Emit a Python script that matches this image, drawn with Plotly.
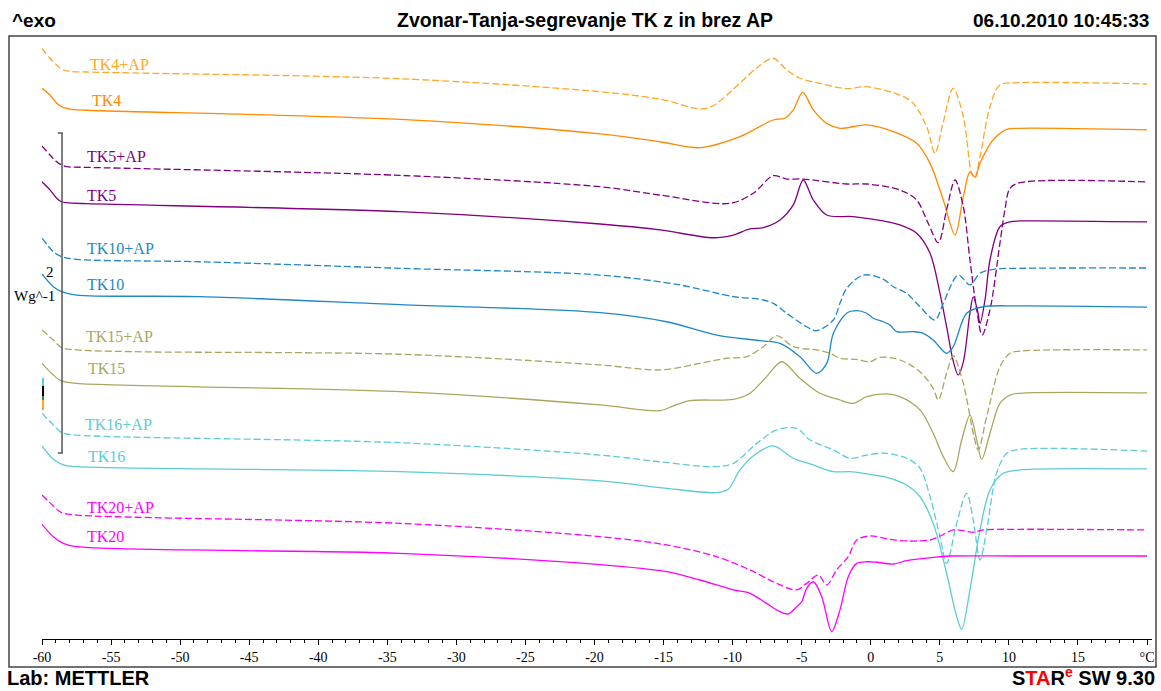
import plotly.graph_objects as go

# DSC heating curves: temperature (°C) vs. heat flow (W/g, curves shifted vertically)
TK4_AP_T = [-60, -59.42, -58.94, -58.58, -57.98, -56.77, -53.41, -34.08, -19.60, -15.26, -11.88, -9.47, -8.26, -7.06, -6.09, -5.13, -3.92, -1.74, -0.30, 2.11, 3.08, 4.05, 4.65, 5.23, 5.97, 6.70, 7.30, 7.54, 7.91, 8.63, 9.35, 10.80, 20.0]
TK4_AP_V = [3.698, 3.636, 3.594, 3.567, 3.554, 3.550, 3.544, 3.508, 3.427, 3.381, 3.323, 3.481, 3.575, 3.636, 3.563, 3.511, 3.483, 3.446, 3.458, 3.406, 3.354, 3.208, 3.042, 3.231, 3.448, 3.271, 2.917, 2.886, 3.021, 3.333, 3.469, 3.483, 3.475]

TK4_T = [-60, -59.42, -58.94, -58.46, -57.85, -56.77, -34.08, -19.60, -15.26, -12.37, -9.47, -7.06, -6.21, -5.61, -4.93, -4.16, -3.19, -2.23, -0.30, 1.63, 3.32, 4.29, 5.25, 6.10, 6.70, 7.18, 7.54, 7.91, 8.85, 9.84, 10.80, 20.0]
TK4_V = [3.448, 3.406, 3.354, 3.329, 3.317, 3.311, 3.254, 3.163, 3.114, 3.077, 3.146, 3.250, 3.261, 3.313, 3.423, 3.313, 3.229, 3.198, 3.219, 3.177, 3.104, 2.979, 2.750, 2.531, 2.771, 2.925, 2.894, 2.981, 3.125, 3.192, 3.198, 3.188]

TK5_AP_T = [-60, -59.42, -58.94, -58.58, -58.21, -56.77, -34.08, -19.60, -15.26, -10.19, -8.51, -7.06, -6.09, -4.89, -1.74, -0.30, 2.11, 3.32, 4.16, 4.89, 5.49, 6.10, 6.70, 7.18, 7.67, 8.06, 8.63, 9.35, 9.71, 10.08, 10.80, 20.0]
TK5_AP_V = [3.088, 3.031, 2.989, 2.969, 2.958, 2.954, 2.904, 2.833, 2.781, 2.729, 2.792, 2.902, 2.881, 2.881, 2.850, 2.850, 2.813, 2.750, 2.604, 2.483, 2.688, 2.875, 2.708, 2.375, 2.063, 1.906, 2.063, 2.479, 2.688, 2.823, 2.858, 2.863]

TK5_T = [-60, -59.42, -58.94, -58.58, -58.21, -56.77, -34.08, -19.60, -15.26, -11.40, -9.95, -8.75, -7.78, -6.57, -5.61, -4.89, -4.16, -3.19, -1.27, 0.90, 2.11, 3.32, 4.29, 5.01, 5.49, 5.95, 6.33, 6.70, 7.18, 7.42, 7.75, 7.91, 8.27, 8.63, 9.35, 10.08, 10.80, 20.0]
TK5_V = [2.864, 2.813, 2.761, 2.739, 2.733, 2.727, 2.677, 2.600, 2.563, 2.514, 2.531, 2.569, 2.577, 2.625, 2.719, 2.875, 2.750, 2.656, 2.646, 2.619, 2.594, 2.542, 2.417, 2.167, 1.958, 1.750, 1.656, 1.738, 2.044, 2.144, 2.050, 1.979, 2.125, 2.375, 2.583, 2.614, 2.619, 2.613]

TK10_AP_T = [-60, -59.18, -58.58, -57.49, -48.56, -34.08, -19.60, -13.81, -9.95, -8.02, -7.06, -6.09, -4.64, -3.92, -2.71, -2.23, -1.74, -0.54, 0.90, 1.63, 2.60, 3.56, 4.65, 5.25, 6.33, 7.18, 7.91, 8.87, 10.80, 20.0]
TK10_AP_V = [2.511, 2.427, 2.396, 2.379, 2.364, 2.323, 2.281, 2.219, 2.146, 2.129, 2.104, 2.042, 1.958, 1.933, 2.000, 2.104, 2.198, 2.281, 2.256, 2.208, 2.167, 2.083, 2.000, 2.104, 2.281, 2.219, 2.292, 2.317, 2.323, 2.325]

TK10_T = [-60, -59.18, -58.58, -57.49, -48.56, -34.08, -19.60, -14.78, -11.16, -8.02, -6.57, -5.13, -3.92, -3.19, -2.71, -1.74, -1.02, -0.30, 0.18, 0.90, 1.39, 1.88, 3.08, 3.80, 4.52, 5.49, 5.97, 6.94, 8.14, 10.80, 20.0]
TK10_V = [2.288, 2.208, 2.177, 2.156, 2.146, 2.096, 2.046, 1.989, 1.906, 1.871, 1.854, 1.771, 1.667, 1.729, 1.917, 2.042, 2.058, 2.042, 2.011, 1.989, 1.969, 1.927, 1.927, 1.917, 1.875, 1.792, 1.833, 2.042, 2.083, 2.088, 2.081]

TK15_AP_T = [-60, -59.18, -58.58, -57.49, -53.39, -34.08, -19.60, -15.26, -12.37, -10.43, -8.98, -7.78, -6.81, -5.61, -3.92, -2.95, -2.23, -1.02, -0.06, 0.67, 2.11, 3.56, 4.52, 4.89, 5.49, 5.97, 6.70, 7.42, 7.78, 8.39, 9.35, 10.08, 10.80, 20.0]
TK15_AP_V = [1.938, 1.875, 1.827, 1.813, 1.802, 1.786, 1.719, 1.688, 1.729, 1.761, 1.771, 1.833, 1.902, 1.833, 1.813, 1.792, 1.761, 1.754, 1.739, 1.767, 1.750, 1.677, 1.573, 1.500, 1.667, 1.775, 1.604, 1.292, 1.188, 1.396, 1.708, 1.792, 1.806, 1.813]

TK15_T = [-60, -59.18, -58.58, -57.49, -34.08, -19.60, -15.26, -14.30, -13.09, -9.95, -8.75, -7.54, -6.45, -5.13, -3.68, -2.23, -1.27, -0.30, 1.15, 2.11, 3.56, 4.52, 5.25, 5.97, 6.58, 7.18, 7.67, 8.03, 8.63, 9.35, 10.08, 10.80, 20.0]
TK15_V = [1.729, 1.656, 1.619, 1.604, 1.552, 1.469, 1.433, 1.463, 1.496, 1.504, 1.542, 1.646, 1.739, 1.636, 1.542, 1.500, 1.479, 1.521, 1.538, 1.521, 1.438, 1.292, 1.146, 1.052, 1.250, 1.406, 1.250, 1.129, 1.292, 1.479, 1.531, 1.542, 1.544]

TK16_AP_T = [-60, -59.18, -58.58, -57.49, -34.08, -19.60, -15.26, -11.40, -9.95, -8.26, -6.81, -5.36, -4.40, -2.71, -1.51, -0.30, 1.15, 2.60, 3.56, 4.29, 5.01, 5.49, 6.22, 6.94, 7.42, 7.91, 8.39, 9.11, 9.84, 10.80, 20.0]
TK16_AP_V = [1.417, 1.344, 1.296, 1.281, 1.233, 1.156, 1.114, 1.083, 1.104, 1.229, 1.313, 1.323, 1.250, 1.188, 1.136, 1.156, 1.167, 1.136, 1.075, 0.896, 0.646, 0.479, 0.729, 0.917, 0.750, 0.500, 0.688, 1.042, 1.167, 1.192, 1.181]

TK16_T = [-60, -59.18, -58.46, -57.49, -34.08, -19.60, -14.78, -11.16, -10.32, -9.47, -8.26, -7.06, -5.61, -4.16, -2.71, -1.51, -0.30, 1.15, 2.60, 3.56, 4.52, 5.49, 6.22, 6.58, 7.18, 7.91, 8.63, 9.59, 10.80, 20.0]
TK16_V = [1.213, 1.129, 1.094, 1.083, 1.052, 0.994, 0.948, 0.921, 0.942, 1.063, 1.167, 1.213, 1.136, 1.094, 1.052, 1.052, 1.038, 1.017, 0.969, 0.896, 0.729, 0.417, 0.146, 0.067, 0.313, 0.688, 0.938, 1.042, 1.063, 1.069]

TK20_AP_T = [-60, -59.18, -58.58, -57.49, -34.08, -19.60, -14.78, -11.16, -8.75, -6.81, -5.36, -4.64, -3.80, -3.19, -2.47, -1.63, -1.02, -0.06, 1.39, 2.60, 4.29, 5.01, 5.97, 6.70, 7.42, 8.14, 10.80, 20.0]
TK20_AP_V = [0.906, 0.838, 0.796, 0.781, 0.729, 0.646, 0.594, 0.521, 0.438, 0.354, 0.313, 0.354, 0.406, 0.344, 0.438, 0.521, 0.625, 0.650, 0.629, 0.619, 0.625, 0.650, 0.688, 0.683, 0.673, 0.688, 0.692, 0.688]

TK20_T = [-60, -59.18, -58.46, -57.49, -34.08, -19.60, -14.78, -12.37, -9.95, -8.75, -7.54, -6.57, -5.97, -5.36, -5.00, -4.64, -4.16, -3.55, -2.83, -2.23, -1.63, -1.02, -0.30, 0.43, 1.63, 2.60, 4.52, 5.73, 10.80, 20.0]
TK20_V = [0.723, 0.646, 0.604, 0.583, 0.542, 0.471, 0.427, 0.375, 0.313, 0.292, 0.229, 0.177, 0.163, 0.208, 0.239, 0.323, 0.364, 0.271, 0.052, 0.188, 0.396, 0.479, 0.489, 0.486, 0.475, 0.496, 0.517, 0.525, 0.525, 0.525]

# curve name, x, y, colour, dashed, label position (x, y)
CURVES = [
    ("TK4+AP", TK4_AP_T, TK4_AP_V, "#FFA726", True, -56.67, 3.600),
    ("TK4", TK4_T, TK4_V, "#FF8A00", False, -56.53, 3.369),
    ("TK5+AP", TK5_AP_T, TK5_AP_V, "#800080", True, -56.89, 3.019),
    ("TK5", TK5_T, TK5_V, "#800080", False, -56.89, 2.781),
    ("TK10+AP", TK10_AP_T, TK10_AP_V, "#1E88C8", True, -56.89, 2.444),
    ("TK10", TK10_T, TK10_V, "#1E88C8", False, -56.89, 2.225),
    ("TK15+AP", TK15_AP_T, TK15_AP_V, "#ABA65E", True, -56.96, 1.900),
    ("TK15", TK15_T, TK15_V, "#ABA65E", False, -56.82, 1.694),
    ("TK16+AP", TK16_AP_T, TK16_AP_V, "#5CCBD6", True, -57.03, 1.344),
    ("TK16", TK16_T, TK16_V, "#5CCBD6", False, -56.82, 1.144),
    ("TK20+AP", TK20_AP_T, TK20_AP_V, "#FF00FF", True, -56.89, 0.831),
    ("TK20", TK20_T, TK20_V, "#FF00FF", False, -56.89, 0.644),
]

TICK_VALS = [-60, -55, -50, -45, -40, -35, -30, -25, -20, -15, -10, -5, 0, 5, 10, 15, 20]
TICK_TEXT = ["-60", "-55", "-50", "-45", "-40", "-35", "-30", "-25", "-20", "-15", "-10", "-5", "0", "5", "10", "15", "°C"]

SCALE_BAR_X = -58.55
SCALE_BAR_BOTTOM = 1.169
SCALE_BAR_SIZE = 2.0  # W/g

W, H = 1161, 691
ML, MR, MT, MB = 9, 5, 36, 24
PW, PH = W - ML - MR, H - MT - MB


def px(x):
    return (x - ML) / PW


def py(y):
    return (H - MB - y) / PH


serif = "Liberation Serif, Times New Roman, serif"
sans = "Liberation Sans, Arial, sans-serif"

fig = go.Figure()

for name, xs, ys, col, dashed, lx, ly in CURVES:
    fig.add_trace(go.Scatter(
        x=xs, y=ys, mode="lines", name=name,
        line=dict(color=col, width=1.3, dash="7px,3px" if dashed else "solid",
                  shape="spline", smoothing=0.9),
        hoverinfo="skip",
    ))
    fig.add_annotation(x=lx, y=ly, xref="x", yref="y", text=name, showarrow=False,
                       xanchor="left", yanchor="middle",
                       font=dict(family=serif, size=16, color=col))

# vertical scale bar (2 W/g)
fig.add_trace(go.Scatter(
    x=[SCALE_BAR_X - 0.3, SCALE_BAR_X, SCALE_BAR_X, SCALE_BAR_X - 0.3],
    y=[SCALE_BAR_BOTTOM + SCALE_BAR_SIZE, SCALE_BAR_BOTTOM + SCALE_BAR_SIZE, SCALE_BAR_BOTTOM, SCALE_BAR_BOTTOM],
    mode="lines", line=dict(color="#555555", width=1.5), hoverinfo="skip", cliponaxis=False,
))

# small colour marker stack at the start of the curves
for y0, y1, c in [(1.5875, 1.6375, "#5CCBD6"), (1.525, 1.5875, "#000000"),
                  (1.50, 1.525, "#2E8B57"), (1.4375, 1.50, "#FFA726")]:
    fig.add_shape(type="rect", xref="x", yref="y", x0=-60.05, x1=-59.85, y0=y0, y1=y1,
                  line=dict(width=0), fillcolor=c)

fig.add_annotation(x=px(50), y=py(272), xref="paper", yref="paper", text="2", showarrow=False,
                   font=dict(family=serif, size=15, color="black"), xanchor="center", yanchor="middle")
fig.add_annotation(x=px(34), y=py(296), xref="paper", yref="paper", text="Wg^-1", showarrow=False,
                   font=dict(family=serif, size=15, color="black"), xanchor="center", yanchor="middle")

# header and footer
fig.add_annotation(x=px(10), y=py(20), xref="paper", yref="paper", text="<b>^exo</b>", showarrow=False,
                   xanchor="left", yanchor="middle", font=dict(family=sans, size=19, color="black"))
fig.add_annotation(x=px(585), y=py(20), xref="paper", yref="paper",
                   text="<b>Zvonar-Tanja-segrevanje TK z in brez AP</b>", showarrow=False,
                   xanchor="center", yanchor="middle", font=dict(family=sans, size=19.5, color="black"))
fig.add_annotation(x=px(1151), y=py(20), xref="paper", yref="paper", text="<b>06.10.2010 10:45:33</b>",
                   showarrow=False, xanchor="right", yanchor="middle",
                   font=dict(family=sans, size=19, color="black"))
fig.add_annotation(x=px(5), y=py(691), xref="paper", yref="paper", text="<b>Lab: METTLER</b>",
                   showarrow=False, xanchor="left", yanchor="bottom",
                   font=dict(family=sans, size=20, color="black"))
fig.add_annotation(x=px(1157), y=py(691), xref="paper", yref="paper",
                   text="<b>S<span style='color:#FF0000'>TA</span>R<sup><span style='color:#FF0000'>e</span></sup> SW 9.30</b>",
                   showarrow=False, xanchor="right", yanchor="bottom",
                   font=dict(family=sans, size=20, color="black"))

# outer frame
fig.add_shape(type="rect", xref="paper", yref="paper", x0=0, x1=1, y0=0, y1=1,
              line=dict(color="#444444", width=1.5))

fig.update_layout(
    width=W, height=H,
    margin=dict(l=ML, r=MR, t=MT, b=MB, pad=0, autoexpand=False),
    paper_bgcolor="white", plot_bgcolor="white",
    showlegend=False,
    xaxis=dict(
        domain=[px(42), px(1152)], range=[-60, 20.36],
        anchor="free", position=(H - MB - 639) / PH,
        showline=True, linecolor="black", linewidth=1,
        ticks="outside", ticklen=5, tickcolor="black", tickwidth=1,
        tickvals=TICK_VALS, ticktext=TICK_TEXT,
        tickfont=dict(family=serif, size=14, color="black"),
        minor=dict(dtick=1, ticks="outside", ticklen=3, tickcolor="black", showgrid=False),
        showgrid=False, zeroline=False,
    ),
    yaxis=dict(domain=[0, 1], range=[-0.16875, 3.775], visible=False),
)

fig.write_html("out.html")
